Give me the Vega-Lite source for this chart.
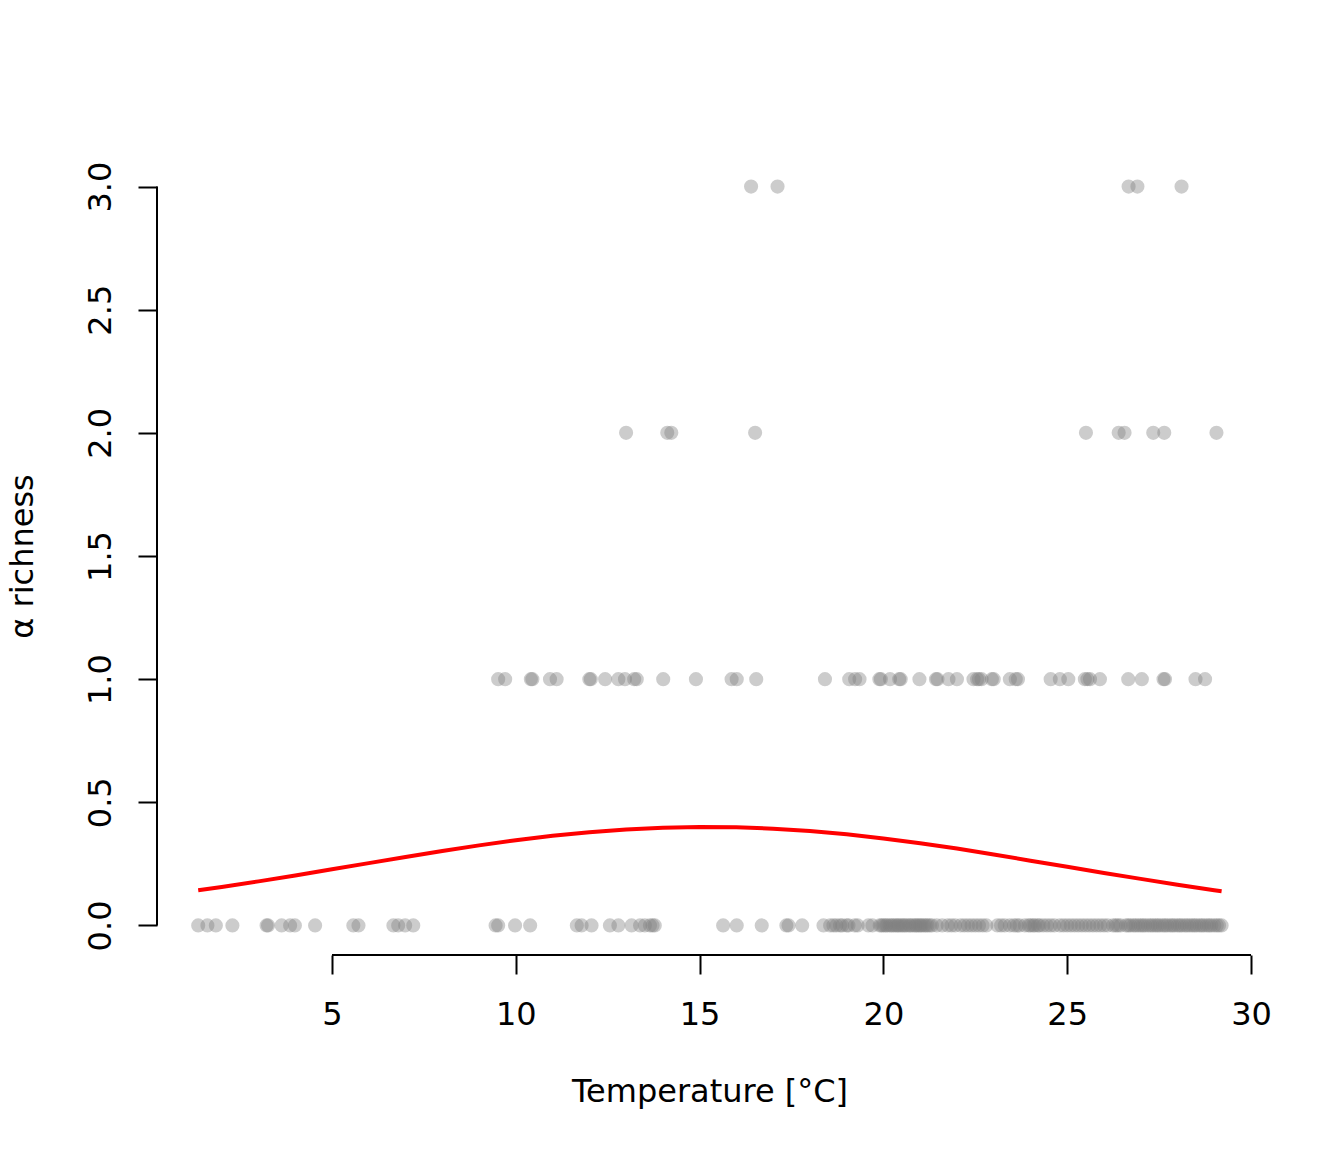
{
  "$schema": "https://vega.github.io/schema/vega-lite/v6.json",
  "width": 1105,
  "height": 798,
  "autosize": {"type": "none"},
  "padding": {"left": 157, "top": 157, "right": 82, "bottom": 197},
  "background": "white",
  "config": {
    "view": {"stroke": null},
    "font": "DejaVu Sans",
    "axis": {
      "labelFont": "DejaVu Sans",
      "titleFont": "DejaVu Sans",
      "labelFontSize": 32,
      "titleFontSize": 32,
      "titleFontWeight": "normal",
      "labelColor": "black",
      "titleColor": "black",
      "tickColor": "black",
      "tickWidth": 2,
      "tickSize": 19,
      "grid": false,
      "domain": false
    }
  },
  "datasets": {
    "pts": [
      {"temp": 1.36, "rich": 0}, {"temp": 1.61, "rich": 0}, {"temp": 1.84, "rich": 0}, {"temp": 2.29, "rich": 0},
      {"temp": 3.22, "rich": 0}, {"temp": 3.26, "rich": 0}, {"temp": 3.63, "rich": 0}, {"temp": 3.86, "rich": 0},
      {"temp": 3.99, "rich": 0}, {"temp": 4.54, "rich": 0}, {"temp": 5.58, "rich": 0}, {"temp": 5.72, "rich": 0},
      {"temp": 6.67, "rich": 0}, {"temp": 6.8, "rich": 0}, {"temp": 6.99, "rich": 0}, {"temp": 7.21, "rich": 0},
      {"temp": 9.45, "rich": 0}, {"temp": 9.52, "rich": 0}, {"temp": 9.98, "rich": 0}, {"temp": 10.39, "rich": 0},
      {"temp": 11.66, "rich": 0}, {"temp": 11.79, "rich": 0}, {"temp": 12.06, "rich": 0}, {"temp": 12.56, "rich": 0},
      {"temp": 12.79, "rich": 0}, {"temp": 13.15, "rich": 0}, {"temp": 13.38, "rich": 0}, {"temp": 13.51, "rich": 0},
      {"temp": 13.65, "rich": 0}, {"temp": 13.72, "rich": 0}, {"temp": 13.78, "rich": 0}, {"temp": 15.64, "rich": 0},
      {"temp": 16.01, "rich": 0}, {"temp": 16.69, "rich": 0}, {"temp": 17.36, "rich": 0}, {"temp": 17.42, "rich": 0},
      {"temp": 17.79, "rich": 0}, {"temp": 18.37, "rich": 0}, {"temp": 18.55, "rich": 0}, {"temp": 18.64, "rich": 0},
      {"temp": 18.72, "rich": 0}, {"temp": 18.82, "rich": 0}, {"temp": 18.88, "rich": 0}, {"temp": 19.0, "rich": 0},
      {"temp": 19.05, "rich": 0}, {"temp": 19.22, "rich": 0}, {"temp": 19.3, "rich": 0}, {"temp": 19.59, "rich": 0},
      {"temp": 19.7, "rich": 0}, {"temp": 19.9, "rich": 0}, {"temp": 19.95, "rich": 0}, {"temp": 20.0, "rich": 0},
      {"temp": 20.06, "rich": 0}, {"temp": 20.1, "rich": 0}, {"temp": 20.17, "rich": 0}, {"temp": 20.22, "rich": 0},
      {"temp": 20.27, "rich": 0}, {"temp": 20.33, "rich": 0}, {"temp": 20.38, "rich": 0}, {"temp": 20.42, "rich": 0},
      {"temp": 20.48, "rich": 0}, {"temp": 20.53, "rich": 0}, {"temp": 20.58, "rich": 0}, {"temp": 20.63, "rich": 0},
      {"temp": 20.7, "rich": 0}, {"temp": 20.74, "rich": 0}, {"temp": 20.8, "rich": 0}, {"temp": 20.86, "rich": 0},
      {"temp": 20.9, "rich": 0}, {"temp": 20.95, "rich": 0}, {"temp": 21.0, "rich": 0}, {"temp": 21.04, "rich": 0},
      {"temp": 21.1, "rich": 0}, {"temp": 21.15, "rich": 0}, {"temp": 21.2, "rich": 0}, {"temp": 21.26, "rich": 0},
      {"temp": 21.32, "rich": 0}, {"temp": 21.45, "rich": 0}, {"temp": 21.6, "rich": 0}, {"temp": 21.75, "rich": 0},
      {"temp": 21.85, "rich": 0}, {"temp": 21.95, "rich": 0}, {"temp": 22.1, "rich": 0}, {"temp": 22.2, "rich": 0},
      {"temp": 22.3, "rich": 0}, {"temp": 22.4, "rich": 0}, {"temp": 22.5, "rich": 0}, {"temp": 22.6, "rich": 0},
      {"temp": 22.7, "rich": 0}, {"temp": 22.8, "rich": 0}, {"temp": 23.1, "rich": 0}, {"temp": 23.2, "rich": 0},
      {"temp": 23.3, "rich": 0}, {"temp": 23.44, "rich": 0}, {"temp": 23.55, "rich": 0}, {"temp": 23.63, "rich": 0},
      {"temp": 23.7, "rich": 0}, {"temp": 23.85, "rich": 0}, {"temp": 23.95, "rich": 0}, {"temp": 24.0, "rich": 0},
      {"temp": 24.07, "rich": 0}, {"temp": 24.12, "rich": 0}, {"temp": 24.2, "rich": 0}, {"temp": 24.25, "rich": 0},
      {"temp": 24.35, "rich": 0}, {"temp": 24.45, "rich": 0}, {"temp": 24.55, "rich": 0}, {"temp": 24.65, "rich": 0},
      {"temp": 24.8, "rich": 0}, {"temp": 24.9, "rich": 0}, {"temp": 25.0, "rich": 0}, {"temp": 25.1, "rich": 0},
      {"temp": 25.2, "rich": 0}, {"temp": 25.3, "rich": 0}, {"temp": 25.4, "rich": 0}, {"temp": 25.5, "rich": 0},
      {"temp": 25.6, "rich": 0}, {"temp": 25.7, "rich": 0}, {"temp": 25.8, "rich": 0}, {"temp": 25.9, "rich": 0},
      {"temp": 26.0, "rich": 0}, {"temp": 26.1, "rich": 0}, {"temp": 26.25, "rich": 0}, {"temp": 26.32, "rich": 0},
      {"temp": 26.38, "rich": 0}, {"temp": 26.45, "rich": 0}, {"temp": 26.6, "rich": 0}, {"temp": 26.66, "rich": 0},
      {"temp": 26.72, "rich": 0}, {"temp": 26.8, "rich": 0}, {"temp": 26.86, "rich": 0}, {"temp": 26.93, "rich": 0},
      {"temp": 27.0, "rich": 0}, {"temp": 27.06, "rich": 0}, {"temp": 27.12, "rich": 0}, {"temp": 27.2, "rich": 0},
      {"temp": 27.27, "rich": 0}, {"temp": 27.33, "rich": 0}, {"temp": 27.4, "rich": 0}, {"temp": 27.46, "rich": 0},
      {"temp": 27.52, "rich": 0}, {"temp": 27.6, "rich": 0}, {"temp": 27.66, "rich": 0}, {"temp": 27.72, "rich": 0},
      {"temp": 27.8, "rich": 0}, {"temp": 27.86, "rich": 0}, {"temp": 27.92, "rich": 0}, {"temp": 28.0, "rich": 0},
      {"temp": 28.06, "rich": 0}, {"temp": 28.12, "rich": 0}, {"temp": 28.2, "rich": 0}, {"temp": 28.26, "rich": 0},
      {"temp": 28.33, "rich": 0}, {"temp": 28.4, "rich": 0}, {"temp": 28.46, "rich": 0}, {"temp": 28.52, "rich": 0},
      {"temp": 28.6, "rich": 0}, {"temp": 28.66, "rich": 0}, {"temp": 28.72, "rich": 0}, {"temp": 28.8, "rich": 0},
      {"temp": 28.86, "rich": 0}, {"temp": 28.92, "rich": 0}, {"temp": 29.0, "rich": 0}, {"temp": 29.07, "rich": 0},
      {"temp": 29.13, "rich": 0}, {"temp": 29.2, "rich": 0},
      {"temp": 9.52, "rich": 1}, {"temp": 9.71, "rich": 1}, {"temp": 10.41, "rich": 1}, {"temp": 10.45, "rich": 1},
      {"temp": 10.93, "rich": 1}, {"temp": 11.11, "rich": 1}, {"temp": 12.0, "rich": 1}, {"temp": 12.04, "rich": 1},
      {"temp": 12.43, "rich": 1}, {"temp": 12.79, "rich": 1}, {"temp": 12.97, "rich": 1}, {"temp": 13.22, "rich": 1},
      {"temp": 13.29, "rich": 1}, {"temp": 14.01, "rich": 1}, {"temp": 14.9, "rich": 1}, {"temp": 15.87, "rich": 1},
      {"temp": 16.01, "rich": 1}, {"temp": 16.54, "rich": 1}, {"temp": 18.41, "rich": 1}, {"temp": 19.07, "rich": 1},
      {"temp": 19.23, "rich": 1}, {"temp": 19.35, "rich": 1}, {"temp": 19.89, "rich": 1}, {"temp": 19.93, "rich": 1},
      {"temp": 20.18, "rich": 1}, {"temp": 20.43, "rich": 1}, {"temp": 20.47, "rich": 1}, {"temp": 20.98, "rich": 1},
      {"temp": 21.43, "rich": 1}, {"temp": 21.47, "rich": 1}, {"temp": 21.77, "rich": 1}, {"temp": 22.0, "rich": 1},
      {"temp": 22.45, "rich": 1}, {"temp": 22.55, "rich": 1}, {"temp": 22.6, "rich": 1}, {"temp": 22.67, "rich": 1},
      {"temp": 22.95, "rich": 1}, {"temp": 23.0, "rich": 1}, {"temp": 23.44, "rich": 1}, {"temp": 23.6, "rich": 1},
      {"temp": 23.66, "rich": 1}, {"temp": 24.55, "rich": 1}, {"temp": 24.8, "rich": 1}, {"temp": 25.03, "rich": 1},
      {"temp": 25.48, "rich": 1}, {"temp": 25.55, "rich": 1}, {"temp": 25.62, "rich": 1}, {"temp": 25.89, "rich": 1},
      {"temp": 26.66, "rich": 1}, {"temp": 27.03, "rich": 1}, {"temp": 27.62, "rich": 1}, {"temp": 27.66, "rich": 1},
      {"temp": 28.49, "rich": 1}, {"temp": 28.75, "rich": 1},
      {"temp": 13.0, "rich": 2}, {"temp": 14.12, "rich": 2}, {"temp": 14.23, "rich": 2}, {"temp": 16.51, "rich": 2},
      {"temp": 25.51, "rich": 2}, {"temp": 26.4, "rich": 2}, {"temp": 26.56, "rich": 2}, {"temp": 27.34, "rich": 2},
      {"temp": 27.64, "rich": 2}, {"temp": 29.06, "rich": 2},
      {"temp": 16.4, "rich": 3}, {"temp": 17.12, "rich": 3}, {"temp": 26.67, "rich": 3}, {"temp": 26.91, "rich": 3},
      {"temp": 28.11, "rich": 3}
    ],
    "fit": [
      {"temp": 1.36, "mu": 0.143}, {"temp": 2, "mu": 0.156}, {"temp": 3, "mu": 0.179}, {"temp": 4, "mu": 0.203},
      {"temp": 5, "mu": 0.228}, {"temp": 6, "mu": 0.253}, {"temp": 7, "mu": 0.278}, {"temp": 8, "mu": 0.302},
      {"temp": 9, "mu": 0.325}, {"temp": 10, "mu": 0.346}, {"temp": 11, "mu": 0.364}, {"temp": 12, "mu": 0.378},
      {"temp": 13, "mu": 0.39}, {"temp": 14, "mu": 0.397}, {"temp": 15, "mu": 0.4}, {"temp": 16, "mu": 0.399},
      {"temp": 17, "mu": 0.393}, {"temp": 18, "mu": 0.383}, {"temp": 19, "mu": 0.37}, {"temp": 20, "mu": 0.353},
      {"temp": 21, "mu": 0.334}, {"temp": 22, "mu": 0.312}, {"temp": 23, "mu": 0.288}, {"temp": 24, "mu": 0.263},
      {"temp": 25, "mu": 0.238}, {"temp": 26, "mu": 0.213}, {"temp": 27, "mu": 0.189}, {"temp": 28, "mu": 0.165},
      {"temp": 29, "mu": 0.143}, {"temp": 29.2, "mu": 0.139}
    ]
  },
  "layer": [
    {
      "data": {"name": "pts"},
      "mark": {"type": "circle", "size": 200, "color": "#808080", "opacity": 0.4, "strokeWidth": 0},
      "encoding": {
        "x": {
          "field": "temp",
          "type": "quantitative",
          "scale": {"domain": [0.239, 30.299], "nice": false, "zero": false},
          "axis": {
            "orient": "bottom",
            "values": [5, 10, 15, 20, 25, 30],
            "labelPadding": 25,
            "title": "Temperature [°C]",
            "titlePadding": 46
          }
        },
        "y": {
          "field": "rich",
          "type": "quantitative",
          "scale": {"domain": [-0.12, 3.12], "nice": false, "zero": false},
          "axis": {
            "orient": "left",
            "values": [0, 0.5, 1, 1.5, 2, 2.5, 3],
            "format": ".1f",
            "labelAngle": -90,
            "labelAlign": "center",
            "labelBaseline": "bottom",
            "labelPadding": 21,
            "title": "α richness",
            "titleAngle": -90,
            "titleBaseline": "bottom",
            "titlePadding": 45
          }
        }
      }
    },
    {
      "data": {"name": "fit"},
      "mark": {"type": "line", "color": "#ff0000", "strokeWidth": 4},
      "encoding": {
        "x": {"field": "temp", "type": "quantitative"},
        "y": {"field": "mu", "type": "quantitative"}
      }
    },
    {
      "data": {"values": [{}]},
      "mark": {"type": "rule", "color": "black", "strokeWidth": 2},
      "encoding": {
        "x": {"datum": 5, "type": "quantitative"},
        "x2": {"datum": 30},
        "y": {"datum": -0.12, "type": "quantitative"}
      }
    },
    {
      "data": {"values": [{}]},
      "mark": {"type": "rule", "color": "black", "strokeWidth": 2},
      "encoding": {
        "y": {"datum": 0, "type": "quantitative"},
        "y2": {"datum": 3},
        "x": {"datum": 0.239, "type": "quantitative"}
      }
    }
  ]
}
